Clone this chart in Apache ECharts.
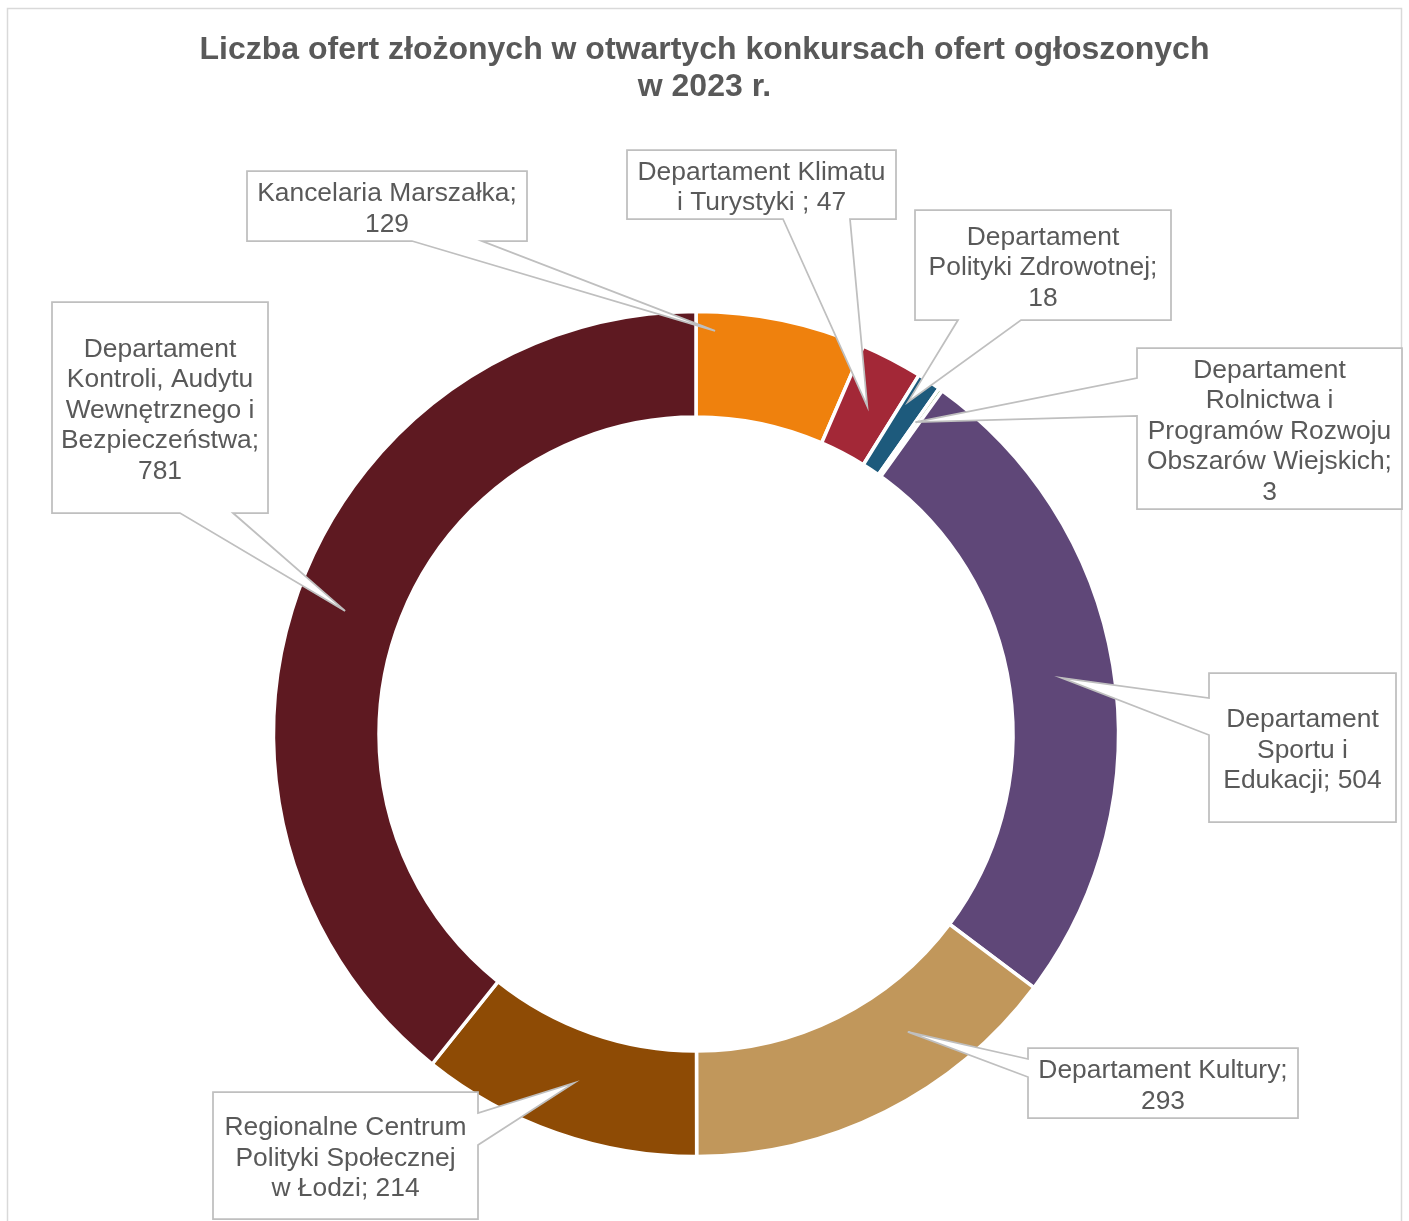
<!DOCTYPE html>
<html>
<head>
<meta charset="utf-8">
<title>Liczba ofert 2023</title>
<script src="https://cdn.jsdelivr.net/npm/echarts@6/dist/echarts.min.js"></script>
<style>
    html, body { margin: 0; padding: 0; background: #fff; }
    #e-main { width: 1409px; height: 1221px; }
</style>
</head>
<body>
<div id="e-main"></div>
<script>
// nazwy komórek (z łamaniem linii jak na etykietach) i liczba ofert
var categories = [
    'Kancelaria Marszałka',
    'Departament Klimatu\ni Turystyki ',
    'Departament\nPolityki Zdrowotnej',
    'Departament\nRolnictwa i\nProgramów Rozwoju\nObszarów Wiejskich',
    'Departament\nSportu i\nEdukacji',
    'Departament Kultury',
    'Regionalne Centrum\nPolityki Społecznej\nw Łodzi',
    'Departament\nKontroli, Audytu\nWewnętrznego i\nBezpieczeństwa'
];
var values = [129, 47, 18, 3, 504, 293, 214, 781];
var colors = ['#EF810D', '#A32837', '#1D5A7C', '#6E9A4A', '#5F4778', '#C1975B', '#8E4B05', '#5E1921'];
// czy wartość stoi w nowej linii etykiety
var valueOnNewLine = [true, false, true, true, false, true, false, true];

// dymki: ramka [x, y, szer, wys], bok z którego wychodzi "ogonek" i jego podstawa
var boxes = [
    [247, 171, 280, 70],
    [627, 150, 269, 69],
    [915, 210, 256, 110],
    [1137, 348, 265, 161],
    [1209, 673, 187, 149],
    [1028, 1048, 270, 70],
    [213, 1092, 265, 127],
    [52, 302, 216, 211]
];
var wedgeSide = ['bottom', 'bottom', 'bottom', 'left', 'left', 'left', 'right', 'bottom'];
var wedgeBase = [[412, 482], [783, 850], [958, 1021], [378, 416], [698, 735], [1059, 1077], [1113, 1145], [180, 233]];
// gdzie w wycinku kończy się ogonek (ułamek kąta, ułamek grubości pierścienia)
var tipAngleFrac = [0.116, 0.5, 0.215, 0, 0.5, 0.334, 0.5, 0.5];
var tipRadiusFrac = [0.82, 0.5, 0.73, 0.61, 0.5, 0.46, 0.5, 0.52];

var fontFamily = "'Liberation Sans', Arial, sans-serif";
var myChart = echarts.init(document.getElementById('e-main'));

var pieData = [];
for (var i = 0; i < values.length; i++) {
    pieData.push({ name: categories[i], value: values[i], itemStyle: { color: colors[i] } });
}

var option = {
    backgroundColor: '#fff',
    animation: false,
    title: {
        text: 'Liczba ofert złożonych w otwartych konkursach ofert ogłoszonych\nw 2023 r.',
        left: 'center',
        top: 32,
        padding: 0,
        textStyle: {
            fontFamily: fontFamily,
            fontSize: 32,
            fontWeight: 'bold',
            color: '#595959',
            lineHeight: 37
        }
    },
    series: [
        {
            type: 'pie',
            center: [696, 734],
            radius: [317, 422.5],
            startAngle: 90,
            clockwise: true,
            silent: true,
            avoidLabelOverlap: false,
            label: { show: false },
            labelLine: { show: false },
            itemStyle: { borderColor: '#fff', borderWidth: 3.5 },
            data: pieData
        }
    ]
};
myChart.setOption(option);

// dymki z ogonkami wskazującymi wycinek
var layoutData = myChart.getModel().getSeriesByIndex(0).getData();
var graphics = [{
    type: 'rect',
    shape: { x: 7.5, y: 8.5, width: 1394, height: 1240 },
    style: { fill: 'none', stroke: '#D9D9D9', lineWidth: 1.5 },
    silent: true,
    z: 0
}];

for (var i = 0; i < values.length; i++) {
    var lay = layoutData.getItemLayout(i);
    var a = lay.startAngle + (lay.endAngle - lay.startAngle) * tipAngleFrac[i];
    var rr = lay.r0 + (lay.r - lay.r0) * tipRadiusFrac[i];
    var tip = [lay.cx + rr * Math.cos(a), lay.cy + rr * Math.sin(a)];

    var b = boxes[i];
    var x0 = b[0], y0 = b[1], x1 = b[0] + b[2], y1 = b[1] + b[3];
    var w = wedgeBase[i];
    var pts;
    if (wedgeSide[i] === 'bottom') {
        pts = [[x0, y0], [x1, y0], [x1, y1], [w[1], y1], tip, [w[0], y1], [x0, y1]];
    } else if (wedgeSide[i] === 'left') {
        pts = [[x0, y0], [x1, y0], [x1, y1], [x0, y1], [x0, w[1]], tip, [x0, w[0]]];
    } else {
        pts = [[x0, y0], [x1, y0], [x1, w[0]], tip, [x1, w[1]], [x1, y1], [x0, y1]];
    }

    graphics.push({
        type: 'polygon',
        shape: { points: pts },
        style: { fill: '#fff', stroke: '#BFBFBF', lineWidth: 1.75 },
        silent: true,
        z: 10
    });
    graphics.push({
        type: 'text',
        x: (x0 + x1) / 2,
        y: (y0 + y1) / 2 + 3,
        style: {
            text: categories[i] + ';' + (valueOnNewLine[i] ? '\n' : ' ') + values[i],
            fill: '#595959',
            fontFamily: fontFamily,
            fontSize: 26.4,
            lineHeight: 30.5,
            align: 'center',
            verticalAlign: 'middle'
        },
        silent: true,
        z: 11
    });
}

myChart.setOption({ graphic: graphics });
</script>
</body>
</html>
